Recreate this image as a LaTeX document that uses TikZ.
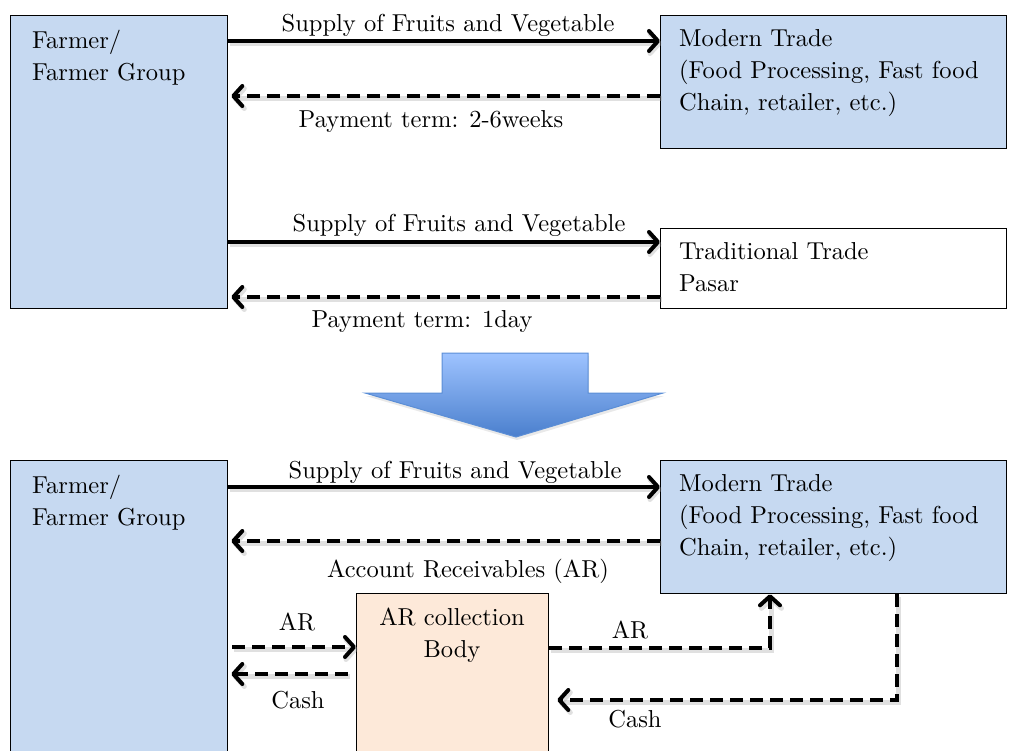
\documentclass[tikz,border=0pt]{standalone}
\usepackage{fontspec}
\setmainfont{lmroman10-regular.otf}
\usetikzlibrary{arrows.meta}
\definecolor{boxblue}{HTML}{C6D9F1}
\definecolor{boxpeach}{HTML}{FDE9D9}
\definecolor{arrtop}{HTML}{9EC3FF}
\definecolor{arrbot}{HTML}{4A7FCD}
\definecolor{arredge}{HTML}{5B8ED6}
% baseline skip 32pt, so a strut is 22.4pt tall above the baseline
\tikzset{
  box/.style={draw=black, line width=1.3pt, fill=boxblue, inner sep=0pt, anchor=north west},
  txt/.style={inner sep=0pt, font=\fontsize{24.5}{32}\selectfont, align=left},
  blocktxt/.style={txt, anchor=north west, execute at begin node=\strut},
  flow/.style={line width=4pt, -{Straight Barb[length=9pt,width=20pt,line cap=round,line join=round]},
    preaction={draw=black!35, opacity=.35, line width=5pt, transform canvas={shift={(1.5pt,-2.5pt)}}}},
  flowdash/.style={flow, dash pattern=on 13pt off 7pt},
}
\begin{document}
\begin{tikzpicture}[x=1pt,y=-1pt]
\useasboundingbox (0,0) rectangle (1009,751);

% ---------- current situation ----------
\node[box, minimum width=217pt, minimum height=293pt] (farmerA) at (10,15) {};
\node[box, minimum width=346pt, minimum height=133pt] (modernA) at (660,15) {};
\node[box, fill=white, minimum width=346pt, minimum height=80pt] (tradA) at (660,228) {};

\node[blocktxt] (farmerAtxt) at (32,29.6) {Farmer/\\Farmer Group};
\node[blocktxt] (modernAtxt) at (679,29.6) {Modern Trade\\(Food Processing, Fast food\\Chain, retailer, etc.)};
\node[blocktxt] (tradAtxt) at (679,242.6) {Traditional Trade\\Pasar};

\coordinate (ya) at (0,41);
\coordinate (yb) at (0,96);
\coordinate (yc) at (0,242);
\coordinate (yd) at (0,297);
\draw[flow] (farmerA.east |- ya) -- (modernA.west |- ya);
\draw[flowdash] (modernA.west |- yb) -- ([xshift=3pt]farmerA.east |- yb);
\draw[flow] (farmerA.east |- yc) -- (tradA.west |- yc);
\draw[flowdash] (tradA.west |- yd) -- ([xshift=3pt]farmerA.east |- yd);

\node[txt, anchor=base] (supA) at (448,32) {Supply of Fruits and Vegetable};
\node[txt, anchor=base] (payA) at (431,128) {Payment term: 2-6weeks};
\node[txt, anchor=base] (supB) at (459,232) {Supply of Fruits and Vegetable};
\node[txt, anchor=base] (payB) at (422,327) {Payment term: 1day};

% ---------- transition arrow ----------
\fill[black!25, opacity=.35, transform canvas={shift={(1pt,-3pt)}}]
  (442,353) -- (588,353) -- (588,393) -- (663,393) -- (516,437) -- (365,393) -- (442,393) -- cycle;
\shade[top color=arrtop, bottom color=arrbot, draw=arredge, line width=1pt]
  (442,353) -- (588,353) -- (588,393) -- (663,393) -- (516,437) -- (365,393) -- (442,393) -- cycle;

% ---------- proposed scheme ----------
\node[box, minimum width=217pt, minimum height=300pt] (farmerB) at (10,460) {};
\node[box, minimum width=346pt, minimum height=133pt] (modernB) at (660,460) {};
\node[box, fill=boxpeach, minimum width=192pt, minimum height=170pt] (arbody) at (356,593) {};

\node[blocktxt] (farmerBtxt) at (32,474.6) {Farmer/\\Farmer Group};
\node[blocktxt] (modernBtxt) at (679,474.6) {Modern Trade\\(Food Processing, Fast food\\Chain, retailer, etc.)};
\node[blocktxt, anchor=north, align=center] (arbodytxt) at (452,607.6) {AR collection\\Body};

\coordinate (ye) at (0,487);
\coordinate (yf) at (0,541);
\coordinate (yg) at (0,647);
\coordinate (yh) at (0,674);
\coordinate (arturn) at (770,648);
\coordinate (cashturn) at (897,700);
\draw[flow] (farmerB.east |- ye) -- (modernB.west |- ye);
\draw[flowdash] (modernB.west |- yf) -- ([xshift=3pt]farmerB.east |- yf);
\draw[flowdash] ([xshift=4pt]farmerB.east |- yg) -- (arbody.west |- yg);
\draw[flowdash] ([xshift=-8pt]arbody.west |- yh) -- ([xshift=3pt]farmerB.east |- yh);
\draw[flowdash] (arbody.east |- arturn) -- (arturn) -- (arturn |- modernB.south);
\draw[flowdash] (cashturn |- modernB.south) -- (cashturn) -- ([xshift=8pt]arbody.east |- cashturn);

\node[txt, anchor=base] (supC) at (455,478) {Supply of Fruits and Vegetable};
\node[txt, anchor=base] (arrec) at (468,577) {Account Receivables (AR)};
\node[txt, anchor=base] (arL) at (297,630) {AR};
\node[txt, anchor=base] (cashL) at (298,708) {Cash};
\node[txt, anchor=base] (arR) at (630,638) {AR};
\node[txt, anchor=base] (cashR) at (635,727) {Cash};
\end{tikzpicture}
\end{document}
